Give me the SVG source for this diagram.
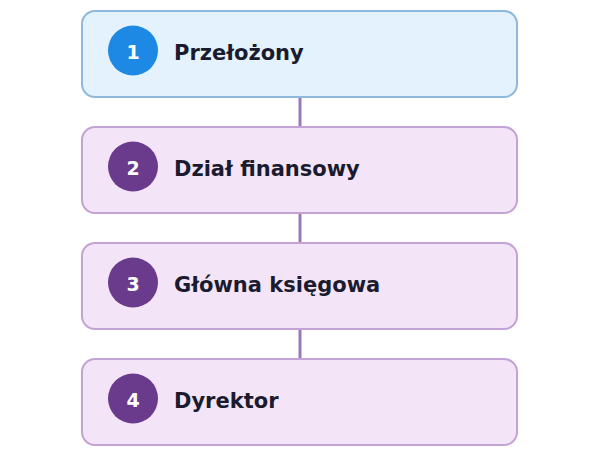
<svg xmlns="http://www.w3.org/2000/svg" width="600" height="450" viewBox="0 0 600 450">
<style>
.box{stroke-width:2}
.blue{fill:#e3f2fd;stroke:#8fb8da}
.purple{fill:#f3e5f7;stroke:#c3a3d6}
.cb{fill:#1e88e5}
.cp{fill:#6a3a8c}
.num{font-family:"DejaVu Sans",sans-serif;font-weight:bold;font-size:19px;fill:#ffffff;text-anchor:middle}
.lbl{font-family:"DejaVu Sans",sans-serif;font-weight:bold;font-size:21px;fill:#1b1b2f}
.conn{stroke:#9a78b6;stroke-width:3;fill:none}
</style>
<rect width="600" height="450" fill="#ffffff"/>
<g id="connectors">
<line class="conn" x1="300" y1="97" x2="300" y2="127"/>
<line class="conn" x1="300" y1="213" x2="300" y2="243"/>
<line class="conn" x1="300" y1="329" x2="300" y2="359"/>
</g>
<g id="node1">
<rect class="box blue" x="82" y="11" width="435" height="86" rx="13"/>
<circle class="cb" cx="133" cy="50.5" r="25"/>
<text class="num" x="133" y="59">1</text>
<text class="lbl" x="174" y="60">Przełożony</text>
</g>
<g id="node2">
<rect class="box purple" x="82" y="127" width="435" height="86" rx="13"/>
<circle class="cp" cx="133" cy="166.5" r="25"/>
<text class="num" x="133" y="175">2</text>
<text class="lbl" x="174" y="176">Dział finansowy</text>
</g>
<g id="node3">
<rect class="box purple" x="82" y="243" width="435" height="86" rx="13"/>
<circle class="cp" cx="133" cy="282.5" r="25"/>
<text class="num" x="133" y="291">3</text>
<text class="lbl" x="174" y="292">Główna księgowa</text>
</g>
<g id="node4">
<rect class="box purple" x="82" y="359" width="435" height="86" rx="13"/>
<circle class="cp" cx="133" cy="398.5" r="25"/>
<text class="num" x="133" y="407">4</text>
<text class="lbl" x="174" y="408">Dyrektor</text>
</g>
</svg>
